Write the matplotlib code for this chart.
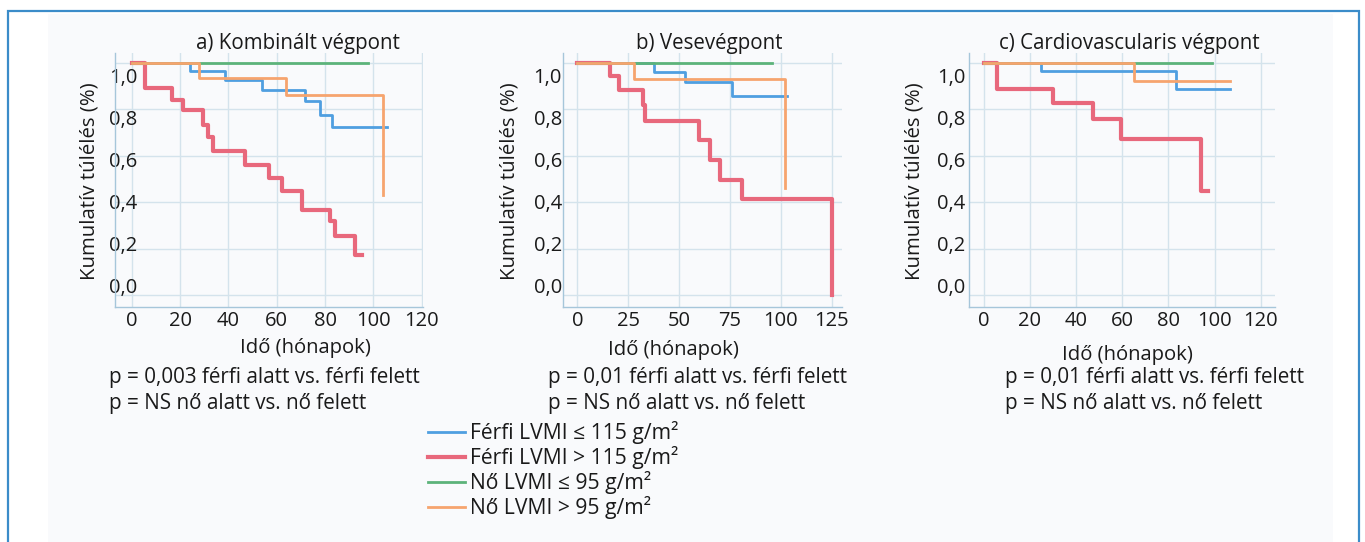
import matplotlib
matplotlib.use("Agg")
import matplotlib.pyplot as plt
from matplotlib.patches import Rectangle
from matplotlib.lines import Line2D

plt.rcParams["font.family"] = ["Open Sans", "DejaVu Sans"]

W, H = 1365, 542

# series: male low, male high, female low, female high
series_labels = ["Férfi LVMI ≤ 115 g/m²", "Férfi LVMI > 115 g/m²",
                 "Nő LVMI ≤ 95 g/m²", "Nő LVMI > 95 g/m²"]
series_colors = ["#4f9fe0", "#e8687c", "#5cb37a", "#f6a46e"]
series_widths = [2.0, 3.0, 2.0, 2.0]

# a) combined endpoint
a_times = [
    [0, 24.1, 38.6, 54.0, 71.7, 77.7, 82.8, 105.5],
    [0, 5.5, 16.6, 21.4, 29.7, 31.7, 33.8, 46.9, 56.6, 62.0, 70.3, 82.0, 84.0, 92.4, 95.2],
    [0, 97.9],
    [0, 28.0, 63.9, 103.9],
]
a_surv = [
    [1.0, 0.964, 0.928, 0.882, 0.835, 0.777, 0.722, 0.722],
    [1.0, 0.892, 0.842, 0.796, 0.734, 0.683, 0.619, 0.561, 0.504, 0.446, 0.367, 0.317, 0.252, 0.173, 0.173],
    [1.0, 1.0],
    [1.0, 0.935, 0.860, 0.432],
]

# b) renal endpoint
b_times = [
    [0, 37.7, 52.9, 76.2, 102.9],
    [0, 16.1, 20.7, 32.1, 33.2, 59.8, 65.2, 70.1, 80.8, 125.3],
    [0, 95.5],
    [0, 27.9, 102.0],
]
b_surv = [
    [1.0, 0.960, 0.917, 0.856, 0.856],
    [1.0, 0.945, 0.885, 0.820, 0.748, 0.666, 0.583, 0.496, 0.414, 0.0],
    [1.0, 1.0],
    [1.0, 0.932, 0.460],
]

# c) cardiovascular endpoint
c_times = [
    [0, 24.9, 83.5, 106.9],
    [0, 5.5, 29.9, 47.5, 59.4, 94.0, 97.1],
    [0, 98.7],
    [0, 64.9, 106.9],
]
c_surv = [
    [1.0, 0.964, 0.889, 0.889],
    [1.0, 0.889, 0.827, 0.758, 0.672, 0.446, 0.446],
    [1.0, 1.0],
    [1.0, 0.921, 0.921],
]

titles = ["a) Kombinált végpont", "b) Vesevégpont", "c) Cardiovascularis végpont"]
p_texts = [
    ["p = 0,003 férfi alatt vs. férfi felett", "p = NS nő alatt vs. nő felett"],
    ["p = 0,01 férfi alatt vs. férfi felett", "p = NS nő alatt vs. nő felett"],
    ["p = 0,01 férfi alatt vs. férfi felett", "p = NS nő alatt vs. nő felett"],
]
x_ticks = [[0, 20, 40, 60, 80, 100, 120],
           [0, 25, 50, 75, 100, 125],
           [0, 20, 40, 60, 80, 100, 120]]
y_grid = [0.0, 0.2, 0.4, 0.6, 0.8, 1.0]
y_labels = ["0,0", "0,2", "0,4", "0,6", "0,8", "1,0"]

# layout in pixels
boxes = [(115, 53, 423, 307), (562.7, 53, 841.7, 307), (969.3, 53, 1275, 307)]
xlims = [(-6.9, 120.5), (-7.2, 130), (-6.3, 126.2)]
ylab_pad = [-16, 0.5, 3]
title_x = [298, 709, 1129]
ylabel_x = [90, 510, 915]
xlabel_pos = [(305, 348), (673, 350), (1127, 355)]
p_pos = [(109, 377), (548, 377), (1005, 378)]
txt = "#1a1a1a"

fig = plt.figure(figsize=(W / 100, H / 100), dpi=100)
fig.patch.set_facecolor("white")

# frame and faint inner panel
fig.add_artist(Rectangle((48 / W, 0), (1333 - 48) / W, 1 - 14 / H, transform=fig.transFigure,
                         facecolor="#f9fafc", edgecolor="none", zorder=0))
fig.add_artist(Rectangle((7.5 / W, -0.05), (1358.5 - 7.5) / W, 1.05 - 11 / H, transform=fig.transFigure,
                         facecolor="none", edgecolor="#3b8cc9", linewidth=1.6, zorder=0))

all_times = [a_times, b_times, c_times]
all_surv = [a_surv, b_surv, c_surv]
label_pos = [0.039 + k * 0.181 for k in range(6)]

for i in range(3):
    l, t, r, b = boxes[i]
    ax = fig.add_axes([l / W, 1 - b / H, (r - l) / W, (b - t) / H])
    ax.set_facecolor("none")
    for j in [0, 1, 2, 3]:
        ax.step(all_times[i][j], all_surv[i][j], where="post",
                color=series_colors[j], lw=series_widths[j], zorder=3)
    ax.set_xlim(*xlims[i])
    ax.set_ylim(-0.052, 1.043)
    ax.set_xticks(x_ticks[i])
    ax.set_yticks(y_grid)
    ax.tick_params(axis="y", which="major", labelleft=False, length=0)
    ax.set_yticks(label_pos, labels=y_labels, minor=True)
    ax.tick_params(axis="y", which="minor", length=0, pad=ylab_pad[i], labelsize=14.5, colors=txt)
    ax.tick_params(axis="x", length=0, pad=3, labelsize=14.5, colors=txt)
    ax.grid(which="major", color="#d4e3ec", lw=1)
    for s in ["top", "right"]:
        ax.spines[s].set_visible(False)
    for s in ["left", "bottom"]:
        ax.spines[s].set_color("#a6c6da")
        ax.spines[s].set_linewidth(1)

    fig.text(title_x[i] / W, 1 - 43 / H, titles[i], ha="center", va="center", fontsize=14.8, color=txt)
    fig.text(ylabel_x[i] / W, 1 - 181 / H, "Kumulatív túlélés (%)", rotation=90,
             ha="center", va="center", fontsize=14.7, color=txt)
    fig.text(xlabel_pos[i][0] / W, 1 - xlabel_pos[i][1] / H, "Idő (hónapok)",
             ha="center", va="center", fontsize=14.6, color=txt)
    px, py = p_pos[i]
    fig.text(px / W, 1 - py / H, p_texts[i][0], ha="left", va="center", fontsize=14.9, color=txt)
    fig.text(px / W, 1 - (py + 26) / H, p_texts[i][1], ha="left", va="center", fontsize=14.9, color=txt)

handles = [Line2D([], [], color=series_colors[j], lw=series_widths[j]) for j in range(4)]
fig.legend(handles, series_labels, loc="upper left", bbox_to_anchor=(428 / W, 1 - 421 / H),
           frameon=False, fontsize=15.2, handlelength=1.75, handletextpad=0.25,
           labelspacing=0.1, borderaxespad=0, borderpad=0, labelcolor=txt)

fig.savefig("out.png", dpi=100, facecolor=fig.get_facecolor())
